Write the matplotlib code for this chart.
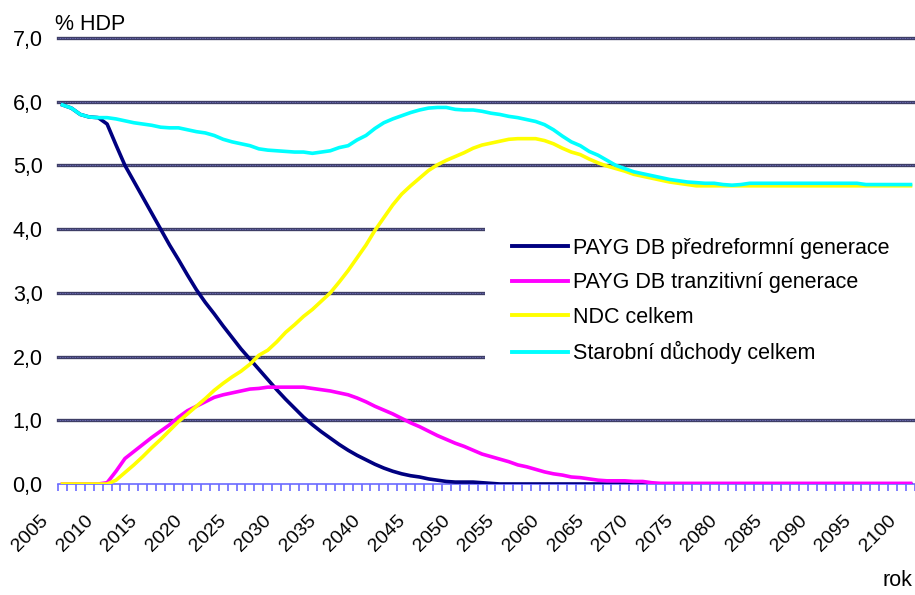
import matplotlib
matplotlib.use("Agg")
import matplotlib.pyplot as plt
import matplotlib.transforms as mtransforms
from matplotlib.patches import Rectangle
from matplotlib.lines import Line2D
import numpy as np

plt.rcParams['font.family'] = ['Liberation Sans', 'DejaVu Sans']

years = np.arange(2005, 2101)

# PAYG DB předreformní generace
payg_pre = [
    5.95, 5.90, 5.80, 5.76, 5.75, 5.65, 5.32, 5.00, 4.75, 4.50,   # 2005-2014
    4.25, 4.00, 3.75, 3.52, 3.28, 3.05, 2.85, 2.67, 2.48, 2.30,   # 2015-2024
    2.12, 1.96, 1.80, 1.64, 1.48, 1.33, 1.19, 1.05, 0.93, 0.82,   # 2025-2034
    0.72, 0.62, 0.53, 0.45, 0.38, 0.31, 0.25, 0.20, 0.16, 0.13,   # 2035-2044
    0.11, 0.08, 0.06, 0.04, 0.03, 0.03, 0.03, 0.02, 0.01, 0.00,   # 2045-2054
    0.00, 0.00, 0.00, 0.00, 0.00, 0.00, 0.00, 0.00, 0.00, 0.00,   # 2055-2064
    0.00, 0.00, 0.00, 0.00, 0.00, 0.00, 0.00, 0.00, 0.00, 0.00,   # 2065-2074
    0.00, 0.00, 0.00, 0.00, 0.00, 0.00, 0.00, 0.00, 0.00, 0.00,   # 2075-2084
    0.00, 0.00, 0.00, 0.00, 0.00, 0.00, 0.00, 0.00, 0.00, 0.00,   # 2085-2094
    0.00, 0.00, 0.00, 0.00, 0.00, 0.00,                           # 2095-2100
]

# PAYG DB tranzitivní generace
payg_tran = [
    0.00, 0.00, 0.00, 0.00, 0.00, 0.02, 0.20, 0.40, 0.51, 0.62,
    0.73, 0.83, 0.93, 1.05, 1.15, 1.22, 1.29, 1.36, 1.40, 1.43,
    1.46, 1.49, 1.50, 1.52, 1.52, 1.52, 1.52, 1.52, 1.50, 1.48,
    1.46, 1.43, 1.40, 1.35, 1.29, 1.22, 1.16, 1.10, 1.03, 0.96,
    0.90, 0.83, 0.76, 0.70, 0.64, 0.59, 0.53, 0.47, 0.43, 0.39,
    0.35, 0.30, 0.27, 0.23, 0.19, 0.16, 0.14, 0.11, 0.10, 0.08,
    0.06, 0.05, 0.05, 0.05, 0.04, 0.04, 0.02, 0.01, 0.01, 0.01,
    0.01, 0.01, 0.01, 0.01, 0.01, 0.01, 0.01, 0.01, 0.01, 0.01,
    0.01, 0.01, 0.01, 0.01, 0.01, 0.01, 0.01, 0.01, 0.01, 0.01,
    0.01, 0.01, 0.01, 0.01, 0.01, 0.01,
]

# NDC celkem
ndc = [
    0.00, 0.00, 0.00, 0.00, 0.00, 0.00, 0.06, 0.18, 0.30, 0.43,
    0.57, 0.70, 0.84, 0.98, 1.10, 1.22, 1.34, 1.47, 1.58, 1.68,
    1.77, 1.88, 2.02, 2.10, 2.23, 2.38, 2.50, 2.63, 2.74, 2.87,
    3.00, 3.17, 3.35, 3.55, 3.75, 3.98, 4.18, 4.38, 4.55, 4.68,
    4.80, 4.92, 5.01, 5.08, 5.14, 5.20, 5.27, 5.32, 5.35, 5.38,
    5.41, 5.42, 5.42, 5.42, 5.39, 5.34, 5.27, 5.21, 5.17, 5.10,
    5.04, 4.99, 4.95, 4.91, 4.86, 4.83, 4.80, 4.77, 4.74, 4.72,
    4.70, 4.68, 4.68, 4.68, 4.68, 4.68, 4.68, 4.68, 4.68, 4.68,
    4.68, 4.68, 4.68, 4.68, 4.68, 4.68, 4.68, 4.68, 4.68, 4.68,
    4.68, 4.68, 4.68, 4.68, 4.68, 4.68,
]

# Starobní důchody celkem
total = [
    5.95, 5.90, 5.80, 5.76, 5.75, 5.75, 5.73, 5.70, 5.67, 5.65,
    5.63, 5.60, 5.59, 5.59, 5.56, 5.53, 5.51, 5.47, 5.41, 5.37,
    5.34, 5.31, 5.26, 5.24, 5.23, 5.22, 5.21, 5.21, 5.19, 5.21,
    5.23, 5.28, 5.31, 5.40, 5.47, 5.58, 5.67, 5.73, 5.78, 5.83,
    5.87, 5.90, 5.91, 5.91, 5.88, 5.87, 5.87, 5.85, 5.82, 5.80,
    5.77, 5.75, 5.72, 5.69, 5.64, 5.56, 5.46, 5.37, 5.31, 5.22,
    5.16, 5.08, 5.00, 4.95, 4.90, 4.87, 4.84, 4.81, 4.78, 4.76,
    4.74, 4.73, 4.72, 4.72, 4.70, 4.69, 4.70, 4.72, 4.72, 4.72,
    4.72, 4.72, 4.72, 4.72, 4.72, 4.72, 4.72, 4.72, 4.72, 4.72,
    4.70, 4.70, 4.70, 4.70, 4.70, 4.70,
]

labels = ["PAYG DB předreformní generace", "PAYG DB tranzitivní generace",
          "NDC celkem", "Starobní důchody celkem"]
colors = ["#000080", "#FF00FF", "#FFFF00", "#00FFFF"]
fs = 15.5

W, H = 915, 595
fig = plt.figure(figsize=(W / 100, H / 100), dpi=100)
ax = fig.add_axes([58 / W, 1 - 484 / H, 1 - 58 / W, (484 - 38) / H])

# gridlines (dark double-ish lines like the Excel original)
for v in range(1, 8):
    ax.axhline(v, color="#3e3e66", lw=2.4, zorder=1, clip_on=False)
    ax.axhline(v, color="#7b7bd0", lw=0.6, ls=(0, (1, 1)), zorder=1.1, clip_on=False)

for series, c in zip([payg_pre, payg_tran, ndc, total], colors):
    ax.plot(years, series, color=c, lw=2.6, zorder=3, solid_joinstyle="round")

ax.set_xlim(2004.5, 2100.5)
ax.set_ylim(0, 7)

for s in ["top", "right", "left"]:
    ax.spines[s].set_visible(False)
ax.spines["bottom"].set_color("#6b6bff")
ax.spines["bottom"].set_linewidth(1.2)

ax.set_yticks(range(0, 8))
ax.set_yticklabels([f"{v},0" for v in range(0, 8)], fontsize=fs)
ax.tick_params(axis="y", length=0, pad=11)

ax.set_xticks(years[::5])
ax.set_xticklabels([str(y) for y in years[::5]], fontsize=14, rotation=45,
                   ha="right", va="top")
ax.set_xticks(np.arange(2004.5, 2101, 1), minor=True)
ax.tick_params(axis="x", which="major", length=0, pad=20)
ax.tick_params(axis="x", which="minor", length=5, width=1.2, color="#6b6bff",
               direction="out")
offset = mtransforms.ScaledTranslation(-11 / 100, 0, fig.dpi_scale_trans)
for lab in ax.get_xticklabels():
    lab.set_transform(lab.get_transform() + offset)

# white area behind the legend hides the gridlines there
fig.patches.append(Rectangle((485 / W, 1 - 398 / H), (W - 485) / W, (398 - 224) / H,
                             transform=fig.transFigure, facecolor="white",
                             edgecolor="none", zorder=2))

handles = [Line2D([], [], color=c, lw=2.8) for c in colors]
fig.legend(handles, labels, loc="upper left",
           bbox_to_anchor=(512 / W, 1 - 238 / H), bbox_transform=fig.transFigure,
           frameon=False, fontsize=fs, handlelength=2.6, handletextpad=0.25,
           labelspacing=0.62, borderpad=0, borderaxespad=0)

fig.text(55 / W, 1 - 24 / H, "% HDP", fontsize=fs, va="center", ha="left")
fig.text(912 / W, 1 - 581 / H, "rok", fontsize=fs, va="center", ha="right")

fig.savefig("out.png", dpi=100)
